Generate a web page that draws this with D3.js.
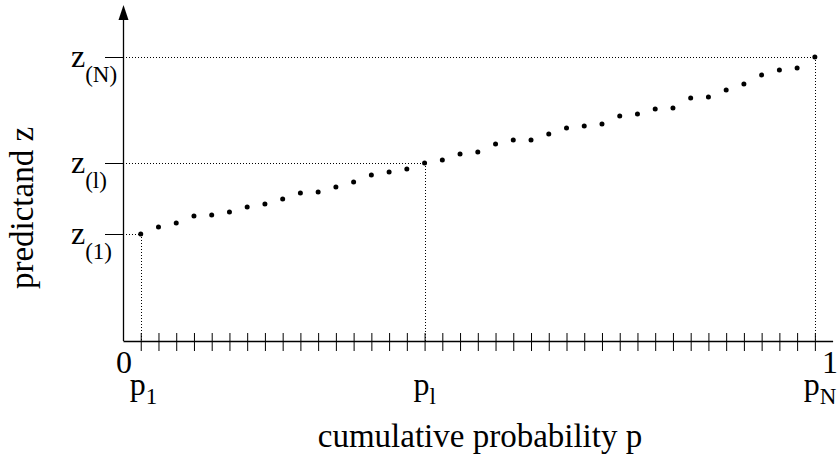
<!DOCTYPE html>
<html>
<head>
<meta charset="utf-8">
<script src="https://cdn.jsdelivr.net/npm/d3@7"></script>
<style>
  html, body { margin: 0; padding: 0; background: #fff; }
  svg { display: block; }
  text { font-family: "Liberation Serif", "Times New Roman", serif; fill: #000; }
</style>
</head>
<body>
<script>
// cumulative probabilities p_i of the ordered sample (N = 39)
const P = [0.025, 0.05, 0.075, 0.1, 0.125, 0.15, 0.175, 0.2, 0.225, 0.25,
           0.275, 0.3, 0.325, 0.35, 0.375, 0.4, 0.425, 0.45, 0.475, 0.5,
           0.525, 0.55, 0.575, 0.6, 0.625, 0.65, 0.675, 0.7, 0.725, 0.75,
           0.775, 0.8, 0.825, 0.85, 0.875, 0.9, 0.925, 0.95, 0.975];
// ordered predictand values z_(i)
const Z = [1.07, 1.14, 1.18, 1.25, 1.26, 1.29, 1.34, 1.37, 1.42, 1.48,
           1.49, 1.54, 1.59, 1.66, 1.69, 1.72, 1.78, 1.81, 1.87, 1.89,
           1.97, 2.01, 2.01, 2.07, 2.13, 2.15, 2.17, 2.25, 2.27, 2.32,
           2.33, 2.43, 2.44, 2.51, 2.57, 2.66, 2.71, 2.73, 2.84];
// highlighted order statistics (index into P / Z)
const markedIndex = [0, 16, 38];
const xSubLabels = ["1", "l", "N"];
const ySubLabels = ["(1)", "(l)", "(N)"];
const xEndLabels = [{ v: 0, t: "0" }, { v: 1, t: "1" }];
const xTitle = "cumulative probability p";
const yTitle = "predictand z";

const W = 838, H = 457;
const svg = d3.select("body").append("svg").attr("width", W).attr("height", H);

const x = d3.scaleLinear().domain([0, 1]).range([123, 832.6]);
const y = d3.scaleLinear().domain([0, 3.36]).range([341, 5]);

// dotted guide lines
const guides = svg.append("g").attr("stroke", "#000").attr("stroke-width", 1)
  .attr("stroke-dasharray", "1,2").attr("fill", "none");
markedIndex.forEach(i => {
  guides.append("line").attr("x1", x(0)).attr("x2", x(P[i]))
    .attr("y1", Math.round(y(Z[i])) + 0.5).attr("y2", Math.round(y(Z[i])) + 0.5);
  guides.append("line").attr("x1", Math.round(x(P[i])) + 0.5).attr("x2", Math.round(x(P[i])) + 0.5)
    .attr("y1", y(Z[i])).attr("y2", y(0));
});

// x axis
const xAxis = d3.axisBottom(x).tickValues(P).tickSizeInner(10).tickSizeOuter(0).tickFormat("");
const gx = svg.append("g").attr("transform", `translate(0,${y(0)})`).call(xAxis);
gx.select(".domain").attr("stroke", "#000").attr("stroke-width", 1.3);
gx.selectAll(".tick line").attr("stroke", "#000").attr("y1", -8).attr("y2", 10);

// y axis
const yAxis = d3.axisLeft(y).tickValues(markedIndex.map(i => Z[i]))
  .tickSizeInner(18).tickSizeOuter(0).tickFormat("");
const gy = svg.append("g").attr("transform", `translate(${x(0)},0)`).call(yAxis);
gy.select(".domain").attr("stroke", "#000").attr("stroke-width", 1.3)
  .attr("d", `M0.5,${y(0)}V${y.range()[1] + 12}`);
gy.selectAll(".tick line").attr("stroke", "#000");

// arrow head
const tipY = y.range()[1];
svg.append("path")
  .attr("d", `M${x(0) + 0.5},${tipY} L${x(0) - 4.5},${tipY + 15} L${x(0) + 5.5},${tipY + 15} Z`)
  .attr("fill", "#000");

// data points
svg.append("g").selectAll("circle").data(P).join("circle")
  .attr("cx", (d) => x(d)).attr("cy", (d, i) => y(Z[i])).attr("r", 2.5).attr("fill", "#000");

// y tick labels z_(.)
markedIndex.forEach((i, k) => {
  const t = svg.append("text").attr("x", 71).attr("y", y(Z[i]) + 10).attr("font-size", 32);
  t.append("tspan").text("z");
  t.append("tspan").attr("font-size", 23).attr("dy", 15).text(ySubLabels[k]);
});

// x tick labels p_.
markedIndex.forEach((i, k) => {
  const t = svg.append("text").attr("x", x(P[i]) - 11).attr("y", 395).attr("font-size", 32);
  t.append("tspan").text("p");
  t.append("tspan").attr("font-size", 23).attr("dy", 9).text(xSubLabels[k]);
});

// 0 and 1 end labels
svg.selectAll(".endlab").data(xEndLabels).join("text").attr("class", "endlab")
  .attr("x", d => d.v === 1 ? W : x(d.v) + 1).attr("y", 373)
  .attr("text-anchor", d => d.v === 1 ? "end" : "middle")
  .attr("font-size", 32).text(d => d.t);

// axis titles
svg.append("text").attr("x", 480).attr("y", 447).attr("text-anchor", "middle")
  .attr("font-size", 33).text(xTitle);
svg.append("text").attr("transform", "translate(33,208) rotate(-90)")
  .attr("text-anchor", "middle").attr("font-size", 33).text(yTitle);
</script>
</body>
</html>
